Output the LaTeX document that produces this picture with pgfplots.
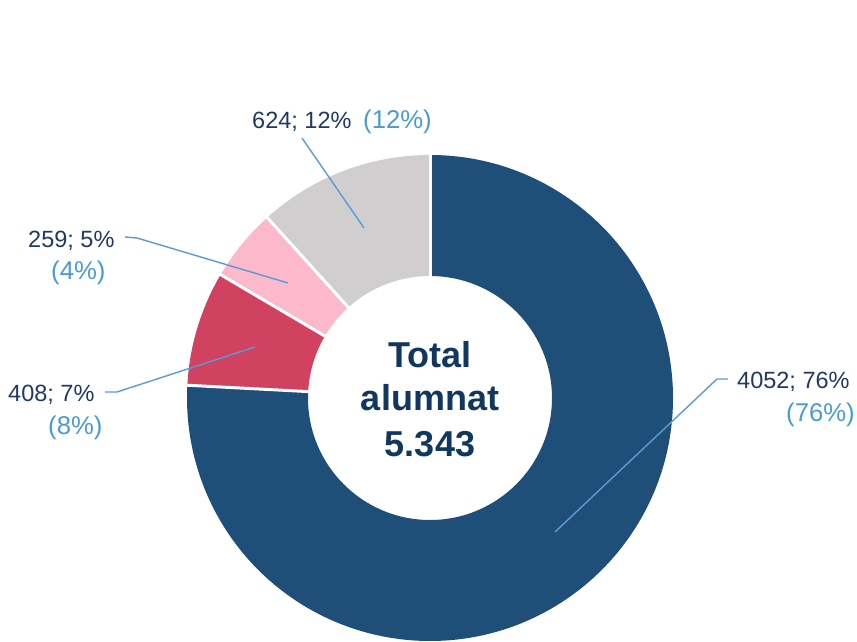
\documentclass[border=0pt]{standalone}
\usepackage{pgfplots}
\pgfplotsset{compat=1.18}
\usepackage{pgfplotstable}
\usepackage{fontspec}
\setmainfont{Liberation Sans}
\definecolor{c1}{HTML}{1F4E79}
\definecolor{c2}{HTML}{D14260}
\definecolor{c3}{HTML}{FBB9CB}
\definecolor{c4}{HTML}{D0CECF}
\definecolor{lab}{HTML}{1F3864}
\definecolor{pct}{HTML}{4A9BD2}
\definecolor{lead}{HTML}{5B9BD5}
\definecolor{ctr}{HTML}{10375F}
\pgfplotstableread{
value
4052
408
259
624
}\datatable
\begin{document}
\begin{tikzpicture}
\pgfplotstablegetelem{0}{value}\of\datatable \edef\va{\pgfplotsretval}
\pgfplotstablegetelem{1}{value}\of\datatable \edef\vb{\pgfplotsretval}
\pgfplotstablegetelem{2}{value}\of\datatable \edef\vc{\pgfplotsretval}
\pgfplotstablegetelem{3}{value}\of\datatable \edef\vd{\pgfplotsretval}
\pgfmathsetmacro\total{\va+\vb+\vc+\vd}
\pgfmathsetmacro\aA{90}
\pgfmathsetmacro\aB{\aA-360*(\va/\total)}
\pgfmathsetmacro\aC{\aB-360*(\vb/\total)}
\pgfmathsetmacro\aD{\aC-360*(\vc/\total)}
\pgfmathsetmacro\aE{\aD-360*(\vd/\total)}
\begin{axis}[
  x=1pt, y=1pt, xmin=0, xmax=857, ymin=0, ymax=642,
  hide axis, clip=false,
]
\path (axis cs:0,0) rectangle (axis cs:857,642);
% slices
\fill[c1] (axis cs:430,244) ++(\aA:243pt) arc[start angle=\aA, end angle=\aB, radius=243pt] -- ++(\aB+180:121pt) arc[start angle=\aB, end angle=\aA, radius=122pt] -- cycle;
\fill[c2] (axis cs:430,244) ++(\aB:243pt) arc[start angle=\aB, end angle=\aC, radius=243pt] -- ++(\aC+180:121pt) arc[start angle=\aC, end angle=\aB, radius=122pt] -- cycle;
\fill[c3] (axis cs:430,244) ++(\aC:243pt) arc[start angle=\aC, end angle=\aD, radius=243pt] -- ++(\aD+180:121pt) arc[start angle=\aD, end angle=\aC, radius=122pt] -- cycle;
\fill[c4] (axis cs:430,244) ++(\aD:243pt) arc[start angle=\aD, end angle=\aE, radius=243pt] -- ++(\aE+180:121pt) arc[start angle=\aE, end angle=\aD, radius=122pt] -- cycle;
% separators
\draw[white, line width=3pt] (axis cs:430,244) ++(\aA:118pt) -- ++(\aA:130pt);
\draw[white, line width=3pt] (axis cs:430,244) ++(\aB:118pt) -- ++(\aB:130pt);
\draw[white, line width=3pt] (axis cs:430,244) ++(\aC:118pt) -- ++(\aC:130pt);
\draw[white, line width=3pt] (axis cs:430,244) ++(\aD:118pt) -- ++(\aD:130pt);
% leader lines
\addplot[lead, line width=1.4pt, mark=none] coordinates {(302,504) (364,414)};
\addplot[lead, line width=1.4pt, mark=none] coordinates {(125,405) (137,404) (288,359)};
\addplot[lead, line width=1.4pt, mark=none] coordinates {(105,250) (117,250) (255,295)};
\addplot[lead, line width=1.4pt, mark=none] coordinates {(728,263) (717,263) (555,110)};
% labels
\begin{scope}[every node/.style={inner sep=0pt, anchor=base west, font=\fontsize{23.5}{28}\selectfont}]
\node[text=lab] at (axis cs:252,513) {624; 12\%};
\node[text=lab] at (axis cs:28,394) {259; 5\%};
\node[text=lab] at (axis cs:8,240) {408; 7\%};
\node[text=lab] at (axis cs:737,253) {4052; 76\%};
\end{scope}
\begin{scope}[every node/.style={inner sep=0pt, anchor=base west, text=pct, font=\fontsize{25.7}{30}\selectfont}]
\node at (axis cs:363,513) {(12\%)};
\node at (axis cs:51,362) {(4\%)};
\node at (axis cs:48,207) {(8\%)};
\node at (axis cs:786,220) {(76\%)};
\end{scope}
\begin{scope}[every node/.style={inner sep=0pt, anchor=base, text=ctr, font=\bfseries\fontsize{36}{42}\selectfont}]
\node at (axis cs:430,274) {Total};
\node at (axis cs:430,231) {alumnat};
\node at (axis cs:430,185) {5.343};
\end{scope}
\end{axis}
\end{tikzpicture}
\end{document}
